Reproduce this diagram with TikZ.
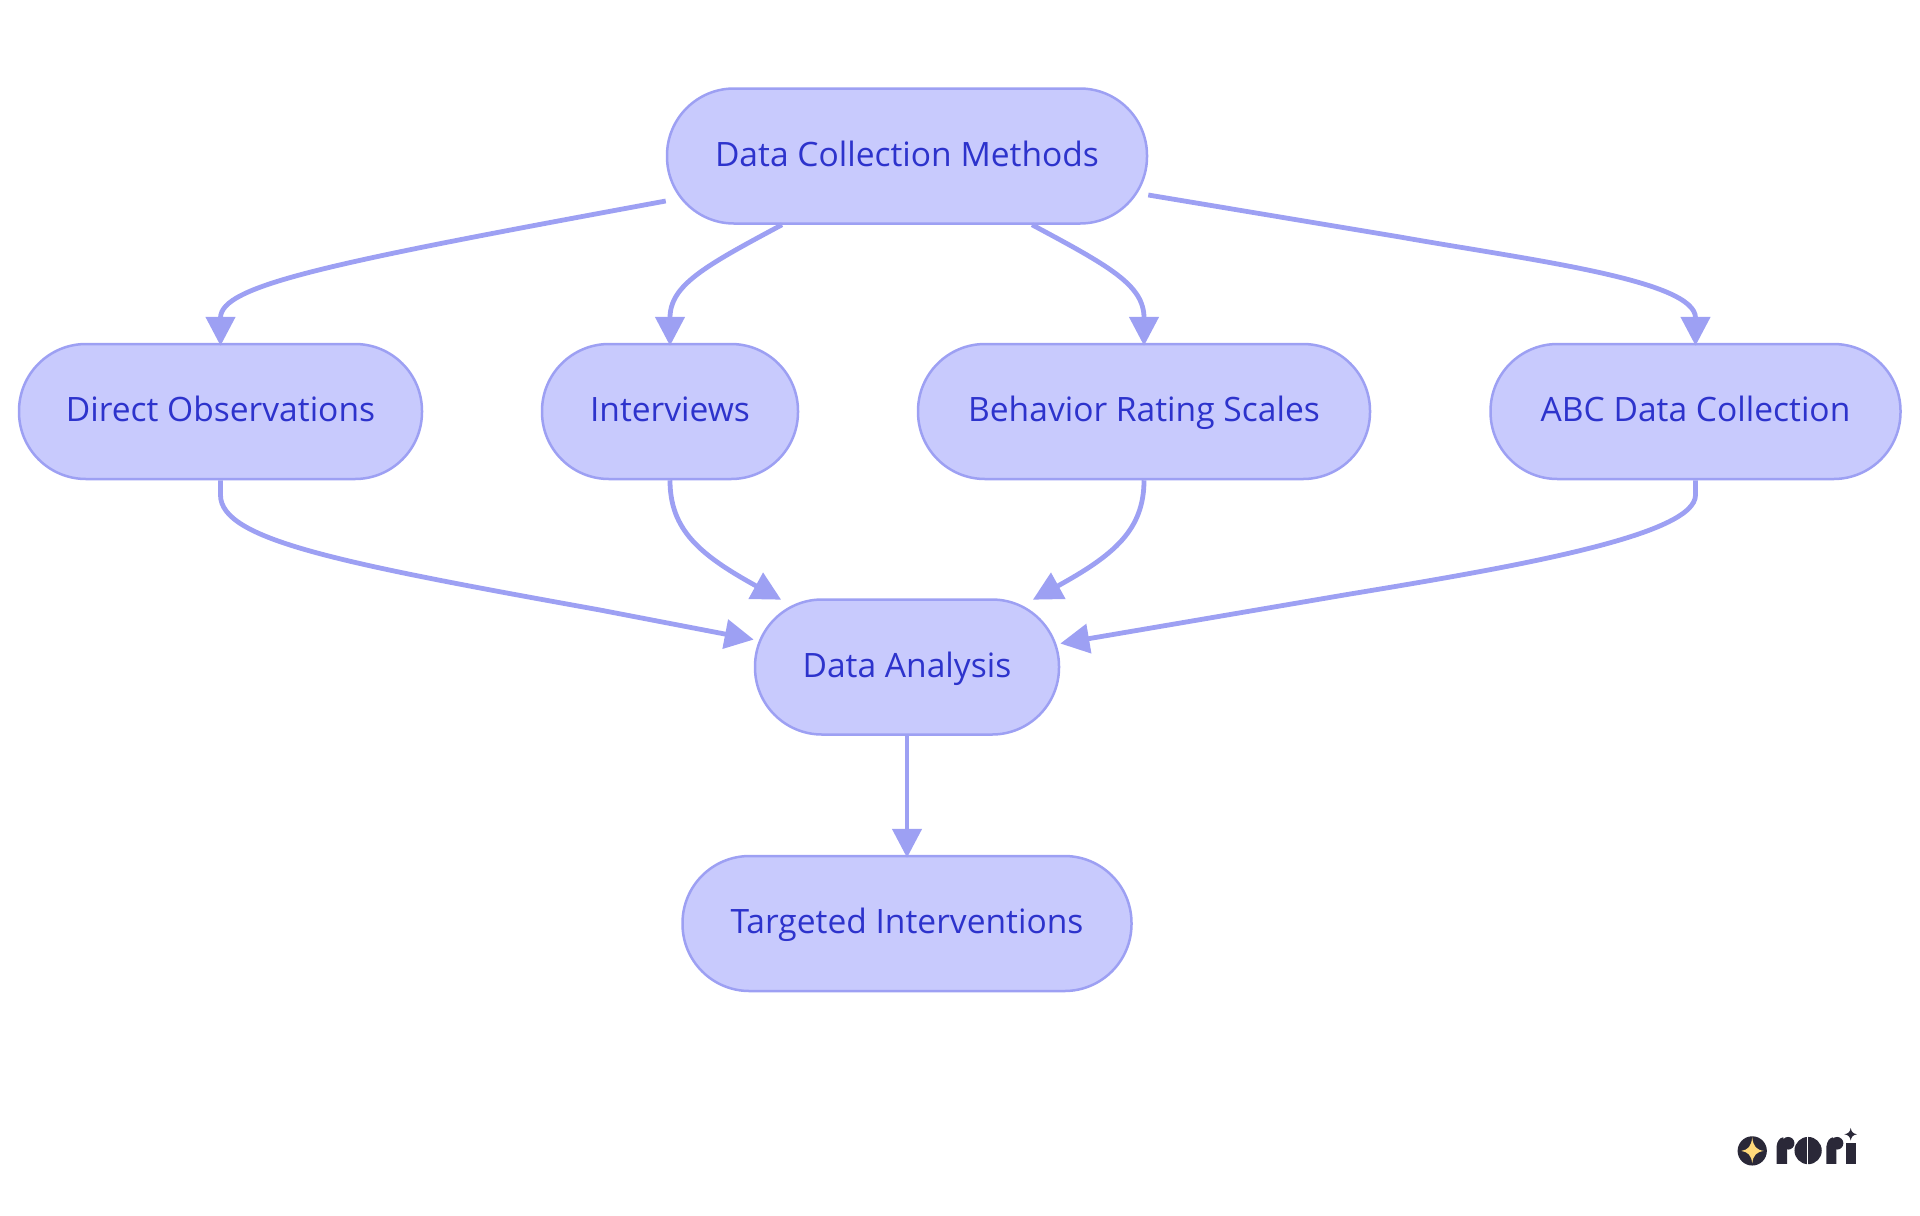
\documentclass[tikz,border=0pt]{standalone}
\usepackage{fontspec}
\setmainfont{Open Sans}
\usepackage{xcolor}
\usetikzlibrary{arrows.meta}
\definecolor{boxfill}{HTML}{C8CAFD}
\definecolor{boxline}{HTML}{9DA0F3}
\definecolor{boxtext}{HTML}{2D33CC}
\definecolor{logodark}{HTML}{2A2838}
\definecolor{logostar}{HTML}{FFD97A}
\tikzset{
    stadium/.style={draw=boxline, fill=boxfill, text=boxtext, line width=0.025cm, rounded corners=0.67cm,
        minimum height=1.35cm, inner sep=0pt, text height=3mm, text depth=1mm,
        font=\fontsize{9.55}{11}\selectfont},
    link/.style={draw=boxline, line width=0.048cm, shorten >=-0.03cm,
        -{Triangle[length=0.29cm, width=0.29cm]}},
}
\begin{document}
\begin{tikzpicture}
    \useasboundingbox (0,0) rectangle (19.2,-12.15);
    \node[stadium, minimum width=4.80cm] (methods) at (9.07,-1.56) {Data Collection Methods};
    \node[stadium, minimum width=4.03cm] (direct) at (2.205,-4.115) {Direct Observations};
    \node[stadium, minimum width=2.56cm] (interviews) at (6.70,-4.115) {Interviews};
    \node[stadium, minimum width=4.52cm] (scales) at (11.44,-4.115) {Behavior Rating Scales};
    \node[stadium, minimum width=4.10cm] (abc) at (16.955,-4.115) {ABC Data Collection};
    \node[stadium, minimum width=3.04cm] (analysis) at (9.07,-6.67) {Data Analysis};
    \node[stadium, minimum width=4.49cm] (targeted) at (9.07,-9.235) {Targeted Interventions};

    \draw[link] ([yshift=-0.45cm]methods.west) .. controls (3.3,-2.63) and (2.205,-2.85) .. (direct.north);
    \draw[link] ([xshift=-1.25cm]methods.south) .. controls (7.05,-2.66) and (6.70,-2.85) .. (interviews.north);
    \draw[link] ([xshift=1.25cm]methods.south) .. controls (11.09,-2.66) and (11.44,-2.85) .. (scales.north);
    \draw[link] ([yshift=-0.39cm]methods.east) -- (14.0,-2.37) .. controls (15.3,-2.6) and (16.955,-2.8) .. (abc.north);

    \draw[link] (direct.south) -- (2.205,-4.95) .. controls (2.205,-5.4) and (3.4,-5.63) .. (6.0,-6.1) -- ([xshift=-0.03cm, yshift=0.28cm]analysis.west);
    \draw[link] (interviews.south) .. controls (6.70,-5.3) and (7.0,-5.55) .. ([xshift=-1.285cm]analysis.north);
    \draw[link] (scales.south) .. controls (11.44,-5.3) and (11.14,-5.55) .. ([xshift=1.285cm]analysis.north);
    \draw[link] (abc.south) -- (16.955,-4.95) .. controls (16.955,-5.35) and (15.2,-5.66) .. (13.5,-5.94) -- ([xshift=0.03cm, yshift=0.24cm]analysis.east);
    \draw[link] (analysis) -- (targeted);

    \begin{scope}[shift={(17,-11)}, x=0.00333cm, y=-0.00333cm]
        \fill[logodark] (157,153) circle (44);
        \fill[logostar] (157,112) .. controls (160,140) and (170,150) .. (192,153) .. controls (170,156) and (160,166) .. (157,190) .. controls (154,166) and (144,156) .. (124,153) .. controls (144,150) and (154,140) .. (157,112) -- cycle;
        \fill[logodark] (230,192) -- (230,140) .. controls (232,122) and (240,114) .. (250,112) -- (262,150) -- (262,192) -- cycle;
        \fill[logodark] (265,130) circle (19);
        \fill[logodark] (325,152) circle (41);
        \fill[white] (322,108) rectangle (326,196);
        \fill[logodark] (380,192) -- (380,140) .. controls (382,122) and (390,114) .. (400,112) -- (410,150) -- (410,192) -- cycle;
        \fill[logodark] (412,130) circle (19);
        \fill[logodark] (439,128) -- (470,128) -- (470,192) -- (439,192) -- cycle;
        \fill[logodark] (453,84) .. controls (455,96) and (460,101) .. (472,103) .. controls (460,105) and (455,110) .. (453,122) .. controls (451,110) and (446,105) .. (434,103) .. controls (446,101) and (451,96) .. (453,84) -- cycle;
    \end{scope}
\end{tikzpicture}
\end{document}
